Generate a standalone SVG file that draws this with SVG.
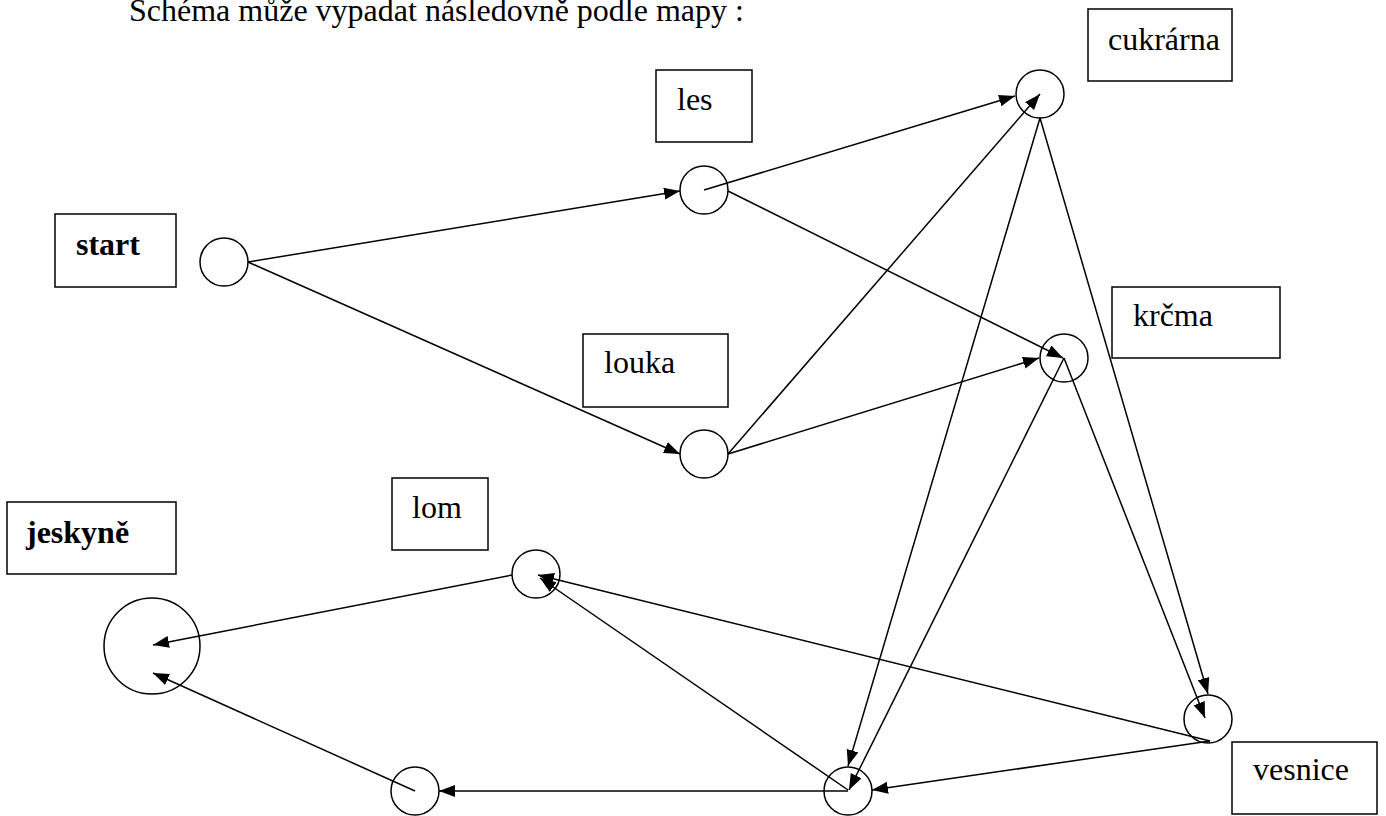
<svg xmlns="http://www.w3.org/2000/svg" width="1386" height="816" viewBox="0 0 1386 816">
<style>
text{font-family:"Liberation Serif","Times New Roman",serif;font-size:32px;fill:#000}
.b{font-weight:bold}
.box{fill:#fff;stroke:#000;stroke-width:1.5}
circle{fill:#fff;stroke:#000;stroke-width:1.5}
#connectors line{stroke:#000;stroke-width:1.5;marker-end:url(#arr)}
</style>
<defs>
<marker id="arr" markerUnits="userSpaceOnUse" markerWidth="18" markerHeight="14" refX="16" refY="6" orient="auto">
<path d="M0,0 L16,6 L0,12 z" fill="#000"/>
</marker>
</defs>
<rect width="1386" height="816" fill="#fff"/>
<text x="129" y="21">Schéma může vypadat následovně podle mapy :</text>
<g id="labels">
<g id="lbl-start"><rect class="box" x="55" y="214" width="121" height="73"/><text class="b" x="76" y="255">start</text></g>
<g id="lbl-les"><rect class="box" x="656" y="70" width="96" height="72"/><text x="677" y="110">les</text></g>
<g id="lbl-cukrarna"><rect class="box" x="1088" y="9" width="144" height="72"/><text x="1108" y="50">cukrárna</text></g>
<g id="lbl-krcma"><rect class="box" x="1112" y="287" width="168" height="71"/><text x="1133" y="326">krčma</text></g>
<g id="lbl-louka"><rect class="box" x="583" y="334" width="145" height="73"/><text x="604" y="373">louka</text></g>
<g id="lbl-jeskyne"><rect class="box" x="7" y="502" width="169" height="72"/><text class="b" x="26" y="543">jeskyně</text></g>
<g id="lbl-lom"><rect class="box" x="392" y="478" width="96" height="72"/><text x="412" y="518">lom</text></g>
<g id="lbl-vesnice"><rect class="box" x="1232" y="742" width="145" height="72"/><text x="1253" y="780">vesnice</text></g>
</g>
<g id="nodes">
<g id="n-start"><circle cx="224" cy="262" r="24"/></g>
<g id="n-les"><circle cx="704" cy="190" r="24"/></g>
<g id="n-louka"><circle cx="704" cy="454" r="24"/></g>
<g id="n-cukrarna"><circle cx="1040" cy="94" r="24"/></g>
<g id="n-krcma"><circle cx="1064" cy="358" r="24"/></g>
<g id="n-vesnice"><circle cx="1208" cy="719" r="24"/></g>
<g id="n-lom"><circle cx="536" cy="574" r="24"/></g>
<g id="n-jeskyne"><circle cx="152" cy="646" r="48"/></g>
<g id="n-bottom-center"><circle cx="848" cy="791" r="24"/></g>
<g id="n-bottom-left"><circle cx="415" cy="791" r="24"/></g>
</g>
<g id="connectors">
<line x1="248" y1="262" x2="680" y2="191"/>
<line x1="248" y1="262" x2="680" y2="454"/>
<line x1="704" y1="190" x2="1015" y2="96"/>
<line x1="728" y1="191" x2="1063" y2="358"/>
<line x1="728" y1="454" x2="1040" y2="94"/>
<line x1="728" y1="454" x2="1039" y2="358"/>
<line x1="1040" y1="118" x2="848" y2="766"/>
<line x1="1040" y1="118" x2="1208" y2="694"/>
<line x1="1064" y1="358" x2="849" y2="790"/>
<line x1="1064" y1="358" x2="1205" y2="718"/>
<line x1="1210" y1="741" x2="538" y2="575"/>
<line x1="1210" y1="741" x2="872" y2="790"/>
<line x1="848" y1="790" x2="540" y2="578"/>
<line x1="848" y1="791" x2="439" y2="791"/>
<line x1="512" y1="575" x2="153" y2="645"/>
<line x1="415" y1="791" x2="153" y2="673"/>
</g>
</svg>
